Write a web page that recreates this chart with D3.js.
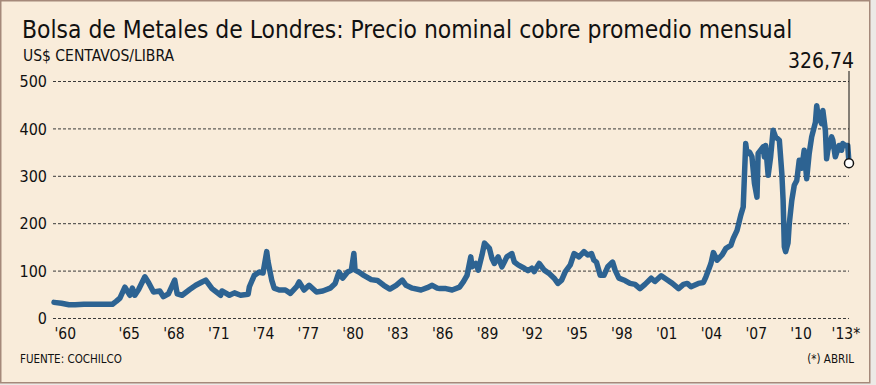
<!DOCTYPE html>
<html>
<head>
<meta charset="utf-8">
<script src="https://cdn.jsdelivr.net/npm/d3@7"></script>
<style>
  body { margin: 0; background: #ece9e6; }
  svg text { font-family: "DejaVu Sans Condensed", "DejaVu Sans", sans-serif; fill: #111; }
</style>
</head>
<body>
<div id="chart"></div>
<script>
// monthly copper price (US$ cents / lb)
var months = ["1960-01","1960-07","1961-01","1961-06","1962-01","1963-01","1963-12","1964-03","1964-06","1964-10",
  "1965-02","1965-04","1965-06","1965-09","1966-02","1966-05","1966-09","1967-02","1967-05","1967-09",
  "1968-02","1968-04","1968-08","1969-02","1969-07","1969-12","1970-03","1970-08","1971-03","1971-04",
  "1971-10","1972-02","1972-07","1973-01","1973-02","1973-06","1973-10","1974-01","1974-04","1974-05",
  "1974-08","1974-10","1975-02","1975-07","1975-11","1976-04","1976-06","1976-10","1977-02","1977-08",
  "1978-01","1978-07","1978-11","1979-02","1979-05","1979-09","1979-12","1980-02","1980-03","1980-06",
  "1980-10","1981-04","1981-09","1982-02","1982-07","1982-12","1983-05","1983-08","1984-01","1984-08",
  "1985-01","1985-05","1985-09","1985-11","1986-04","1986-09","1987-03","1987-06","1987-09","1987-12",
  "1988-01","1988-04","1988-06","1988-09","1988-11","1989-03","1989-05","1989-07","1989-10","1990-01",
  "1990-03","1990-05","1990-09","1990-11","1991-02","1991-07","1991-10","1992-01","1992-03","1992-07",
  "1992-11","1993-03","1993-07","1993-10","1994-01","1994-04","1994-08","1994-11","1995-03","1995-07",
  "1995-10","1996-01","1996-03","1996-05","1996-08","1996-11","1997-02","1997-06","1997-08","1997-11",
  "1998-04","1998-08","1998-12","1999-04","1999-08","2000-01","2000-04","2000-09","2001-02","2001-06",
  "2001-11","2002-03","2002-06","2002-09","2003-03","2003-07","2003-09","2004-01","2004-03","2004-06",
  "2004-10","2005-01","2005-05","2005-07","2005-10","2006-01","2006-03","2006-05","2006-06","2006-08",
  "2006-10","2006-12","2007-02","2007-03","2007-05","2007-07","2007-08","2007-09","2007-11","2008-01",
  "2008-03","2008-05","2008-08","2008-10","2008-11","2008-12","2009-01","2009-03","2009-04","2009-06",
  "2009-08","2009-10","2009-12","2010-02","2010-04","2010-06","2010-08","2010-10","2011-01","2011-02",
  "2011-03","2011-06","2011-07","2011-09","2011-10","2011-11","2012-02","2012-03","2012-05","2012-08",
  "2012-10","2012-11","2013-01","2013-03","2013-04"];
var prices = [33,31,28,28,29,29,29,35,42,65,
  48,63,48,60,87,75,55,57,45,51,
  80,51,48,60,69,76,80,62,48,57,
  48,53,48,50,66,90,97,95,140,120,
  80,63,59,59,52,66,76,59,69,55,
  57,63,73,97,84,97,101,136,101,97,
  90,81,79,69,61,69,80,69,63,59,
  64,69,63,62,62,59,65,76,90,129,
  108,115,101,133,158,147,126,115,129,108,
  118,129,136,118,112,105,100,105,98,115,
  101,94,84,73,80,98,112,136,129,140,
  133,136,122,118,90,90,108,118,101,84,
  79,73,71,62,71,84,77,89,80,73,
  62,71,73,66,73,75,87,115,138,122,
  133,147,153,168,185,217,234,368,347,350,
  340,284,255,347,354,361,340,364,301,340,
  396,382,375,305,248,150,140,158,199,248,
  280,290,333,316,354,294,347,382,413,448,
  430,410,438,396,336,354,382,375,340,364,
  354,368,364,364,326.74];

var tickYears = [1960,1965,1968,1971,1974,1977,1980,1983,1986,1989,1992,1995,1998,2001,2004,2007,2010,2013];
var tickLabels = ["'60","'65","'68","'71","'74","'77","'80","'83","'86","'89","'92","'95","'98","'01","'04","'07","'10","'13*"];
var yTicks = [0,100,200,300,400,500];
var lastLabel = "326,74";

var svgWidth = 876, svgHeight = 385;
var plot = { left: 53, right: 849, top: 81, bottom: 318 };

var parse = d3.timeParse("%Y-%m");
var data = months.map(function(m, i) { return { date: parse(m), value: prices[i] }; });

var svg = d3.select("#chart").append("svg")
  .attr("width", svgWidth)
  .attr("height", svgHeight);

// frame
svg.append("rect")
  .attr("x", 0.75).attr("y", 0.75)
  .attr("width", 869).attr("height", 382)
  .attr("fill", "#f9ecda")
  .attr("stroke", "#a5897a")
  .attr("stroke-width", 1.5);

var x = d3.scaleTime()
  .domain([parse("1960-01"), parse("2013-04")])
  .range([54, plot.right]);

var y = d3.scaleLinear()
  .domain([0, 500])
  .range([plot.bottom, plot.top]);

// title and labels
svg.append("text")
  .attr("x", 22).attr("y", 38)
  .attr("font-size", 24.4)
  .text("Bolsa de Metales de Londres: Precio nominal cobre promedio mensual");

svg.append("text")
  .attr("x", 23).attr("y", 61)
  .attr("font-size", 15.5)
  .text("US$ CENTAVOS/LIBRA");

// y axis with dashed grid
var yAxis = d3.axisLeft(y)
  .tickValues(yTicks)
  .tickSize(-(plot.right - plot.left))
  .tickPadding(6)
  .tickFormat(d3.format("d"));

var yG = svg.append("g")
  .attr("transform", `translate(${plot.left},0)`)
  .call(yAxis);
yG.select(".domain").remove();
yG.selectAll("line")
  .attr("stroke", "#3a3a3a")
  .attr("stroke-dasharray", "3,2");
yG.selectAll("text")
  .attr("font-size", 16)
  .attr("font-family", null)
  .attr("dy", "0.36em");

// x axis labels
var xAxis = d3.axisBottom(x)
  .tickValues(tickYears.map(function(yr) { return new Date(yr, 0, 1); }))
  .tickSize(0)
  .tickPadding(10)
  .tickFormat(function(d, i) { return tickLabels[i]; });

var xG = svg.append("g")
  .attr("transform", `translate(0,${plot.bottom})`)
  .call(xAxis);
xG.select(".domain").remove();
xG.selectAll("text")
  .attr("font-size", 15.5)
  .attr("font-family", null);
xG.selectAll("text").filter(function(d, i) { return i === 0; })
  .attr("text-anchor", "start");

// price line
var line = d3.line()
  .x(d => x(d.date))
  .y(d => y(d.value))
  .curve(d3.curveLinear);

svg.append("path")
  .datum(data)
  .attr("fill", "none")
  .attr("stroke", "#2d6392")
  .attr("stroke-width", 5.5)
  .attr("stroke-linejoin", "round")
  .attr("stroke-linecap", "round")
  .attr("d", line);

// last value callout
var last = data[data.length - 1];
svg.append("line")
  .attr("x1", x(last.date)).attr("x2", x(last.date))
  .attr("y1", 71).attr("y2", y(last.value))
  .attr("stroke", "#111")
  .attr("stroke-width", 1);

svg.append("circle")
  .attr("cx", x(last.date))
  .attr("cy", y(last.value))
  .attr("r", 4.5)
  .attr("fill", "#fff")
  .attr("stroke", "#111")
  .attr("stroke-width", 1.5);

svg.append("text")
  .attr("x", 854).attr("y", 68)
  .attr("text-anchor", "end")
  .attr("font-size", 21)
  .text(lastLabel);

// footer
svg.append("text")
  .attr("x", 20).attr("y", 363)
  .attr("font-size", 11.5)
  .text("FUENTE: COCHILCO");

svg.append("text")
  .attr("x", 854).attr("y", 363)
  .attr("text-anchor", "end")
  .attr("font-size", 11.5)
  .text("(*) ABRIL");
</script>
</body>
</html>
